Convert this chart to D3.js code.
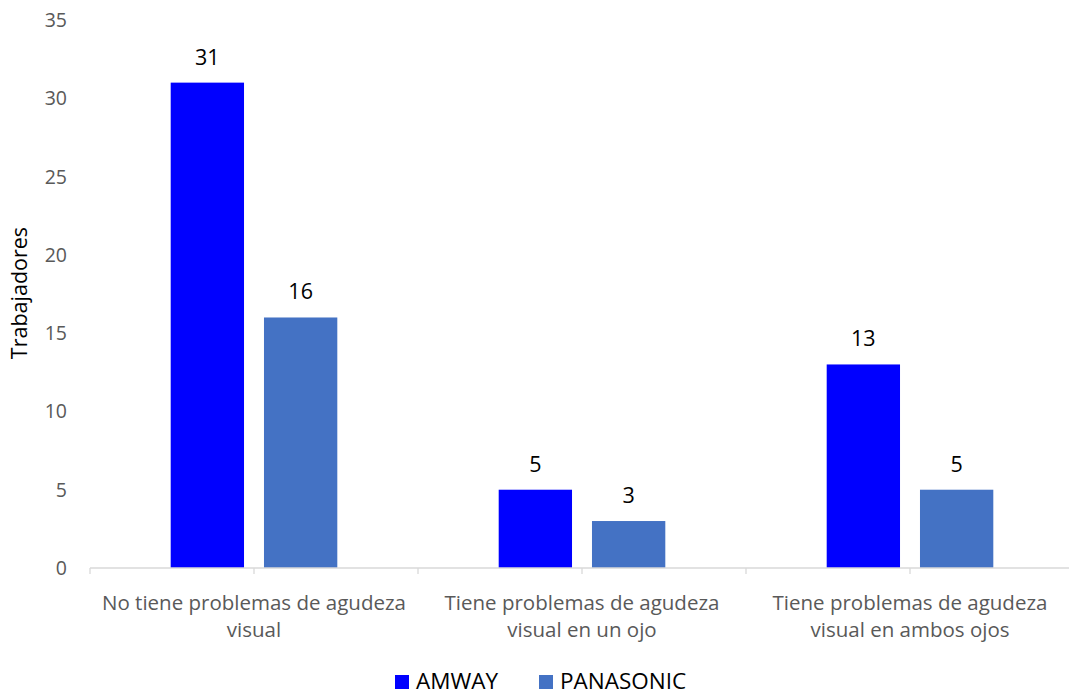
<!DOCTYPE html>
<html>
<head>
<meta charset="utf-8">
<script src="https://d3js.org/d3.v7.min.js"></script>
<style>
  body { margin: 0; background: #fff; }
  text { font-family: "Open Sans", "Liberation Sans", sans-serif; }
</style>
</head>
<body>
<svg id="chart" width="1069" height="696"></svg>
<script>
// data
var categories = [
  ["No tiene problemas de agudeza", "visual"],
  ["Tiene problemas de agudeza", "visual en un ojo"],
  ["Tiene problemas de agudeza", "visual en ambos ojos"]
];
var seriesNames = ["AMWAY", "PANASONIC"];
var amway = [31, 5, 13];
var panasonic = [16, 3, 5];
var yTicks = [0, 5, 10, 15, 20, 25, 30, 35];
var colors = ["#0000ff", "#4472c4"];

var svg = d3.select("#chart");
var plotLeft = 90, plotBottom = 568, plotTop = 20;
var catW = 328;

var idx = categories.map(function(d, i) { return i; });
var x0 = d3.scaleBand().domain(idx).range([plotLeft, plotLeft + catW * categories.length]);
var x1 = d3.scaleBand().domain(seriesNames).range([0, x0.bandwidth()])
  .paddingInner(0.214).paddingOuter(0.865);
var y = d3.scaleLinear().domain([0, 35]).range([plotBottom, plotTop]);

// y tick labels
svg.append("g").selectAll("text").data(yTicks).join("text")
  .attr("x", 67).attr("y", function(d) { return y(d); })
  .attr("dy", "0.36em").attr("text-anchor", "end")
  .attr("font-size", 19.5).attr("fill", "#595959")
  .text(function(d) { return d; });

// y axis title
svg.append("text")
  .attr("transform", "translate(27,293) rotate(-90)")
  .attr("text-anchor", "middle").attr("font-size", 21.5).attr("fill", "#000")
  .text("Trabajadores");

// bars
var values = [amway, panasonic];
seriesNames.forEach(function(s, si) {
  var g = svg.append("g");
  g.selectAll("rect").data(values[si]).join("rect")
    .attr("x", function(d, i) { return x0(i) + x1(s); })
    .attr("y", function(d) { return y(d); })
    .attr("width", x1.bandwidth())
    .attr("height", function(d) { return y(0) - y(d); })
    .attr("fill", colors[si]);
  g.selectAll("text").data(values[si]).join("text")
    .attr("x", function(d, i) { return x0(i) + x1(s) + x1.bandwidth() / 2; })
    .attr("y", function(d) { return y(d) - 18; })
    .attr("text-anchor", "middle").attr("font-size", 21.5).attr("fill", "#000")
    .text(function(d) { return d; });
});

// x axis line and ticks (every half category)
svg.append("line")
  .attr("x1", plotLeft).attr("x2", 1069).attr("y1", plotBottom).attr("y2", plotBottom)
  .attr("stroke", "#d9d9d9").attr("stroke-width", 1.3);
var tickXs = d3.range(0, categories.length * 2 + 1).map(function(k) { return plotLeft + k * catW / 2; });
svg.append("g").selectAll("line").data(tickXs).join("line")
  .attr("x1", function(d) { return d; }).attr("x2", function(d) { return d; })
  .attr("y1", plotBottom).attr("y2", plotBottom + 6)
  .attr("stroke", "#d9d9d9").attr("stroke-width", 1.3);

// category labels
var catG = svg.append("g").selectAll("text").data(categories).join("text")
  .attr("text-anchor", "middle").attr("font-size", 20.5).attr("fill", "#595959");
catG.each(function(lines, i) {
  var t = d3.select(this);
  lines.forEach(function(l, li) {
    t.append("tspan")
      .attr("x", x0(i) + x0.bandwidth() / 2)
      .attr("y", 610 + li * 27)
      .text(l);
  });
});

// legend
var legend = svg.append("g");
var legX = [395, 539];
seriesNames.forEach(function(s, si) {
  legend.append("rect").attr("x", legX[si]).attr("y", 675)
    .attr("width", 14).attr("height", 14).attr("fill", colors[si]);
  legend.append("text").attr("x", legX[si] + 21).attr("y", 689)
    .attr("font-size", 22.5).attr("fill", "#000").text(s);
});
</script>
</body>
</html>
